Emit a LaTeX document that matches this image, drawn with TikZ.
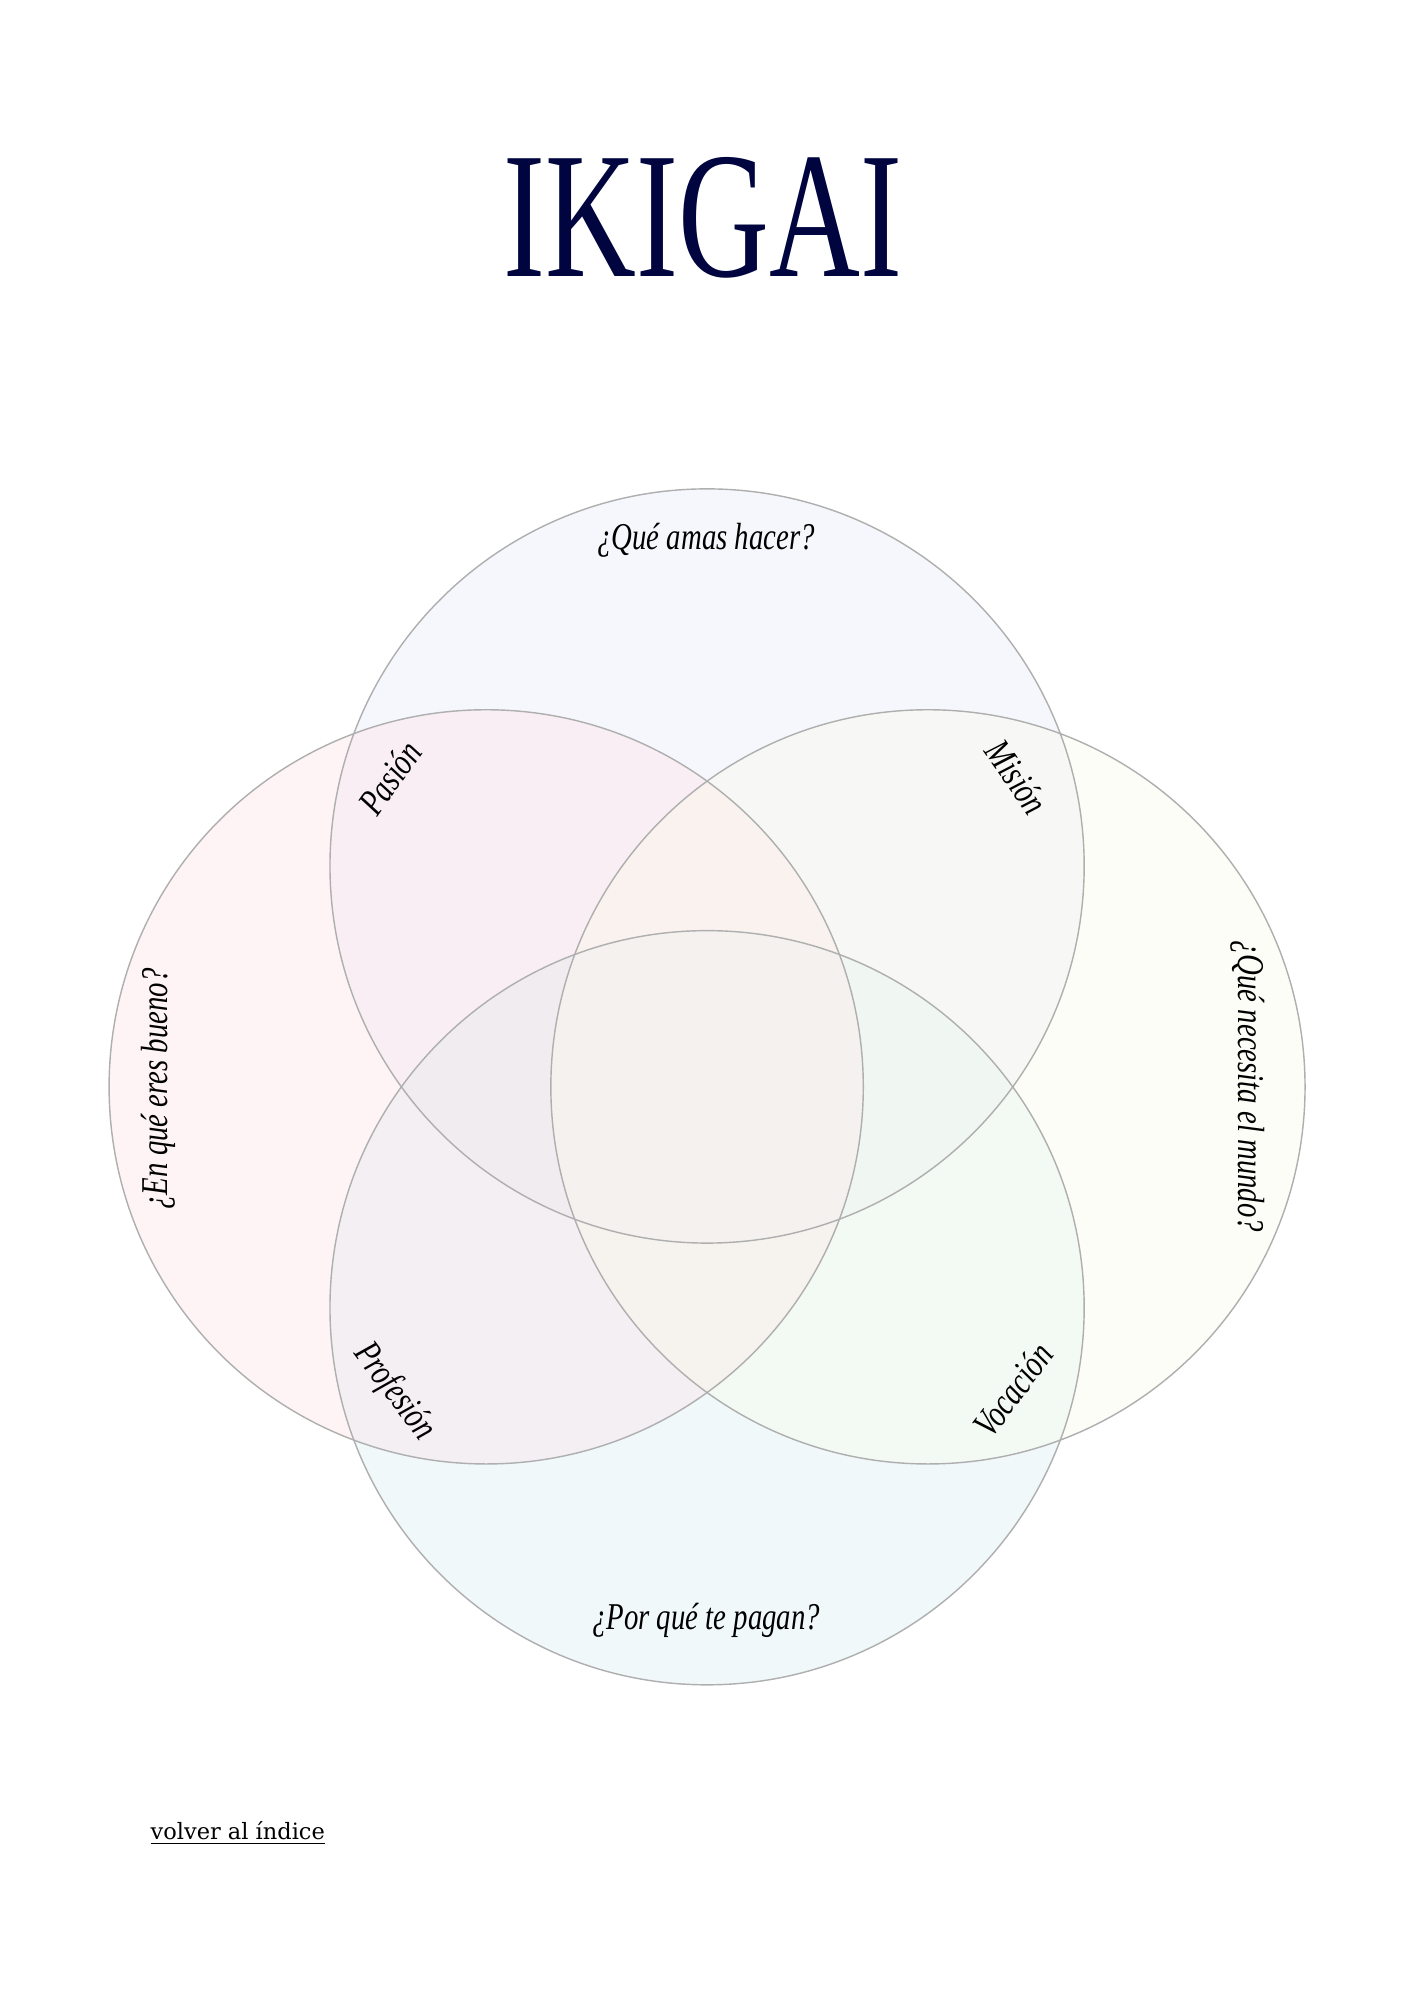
\documentclass[tikz,border=0pt]{standalone}
\usepackage{fontspec}
\usepackage{tikz}
\setmainfont{DejaVu Serif}
\newfontfamily\titlefont[FakeStretch=0.7]{Liberation Serif}
\newfontfamily\labelfont[FakeStretch=0.76]{Liberation Serif}
\definecolor{navy}{RGB}{0,5,64}
\definecolor{ringgray}{RGB}{175,175,175}
\definecolor{amaFill}{RGB}{232,235,247}
\definecolor{buenoFill}{RGB}{252,227,230}
\definecolor{mundoFill}{RGB}{250,250,235}
\definecolor{pagoFill}{RGB}{217,237,242}

\begin{document}
\begin{tikzpicture}[x=1mm, y=1mm,
    ring/.style={draw=ringgray, line width=0.6pt},
    quest/.style={font=\labelfont\itshape\fontsize{16}{18}\selectfont, inner sep=0pt},
    inter/.style={font=\labelfont\itshape\fontsize{16}{18}\selectfont, inner sep=0pt}]
  \useasboundingbox (0,0) rectangle (210,297);
  % fills
  \fill[amaFill, fill opacity=0.4] (105,168.4) circle [radius=56];
  \fill[pagoFill, fill opacity=0.4] (105,102.8) circle [radius=56];
  \fill[buenoFill, fill opacity=0.4] (72.2,135.6) circle [radius=56];
  \fill[mundoFill, fill opacity=0.4] (137.8,135.6) circle [radius=56];
  % outlines
  \draw[ring] (105,168.4) circle [radius=56];
  \draw[ring] (72.2,135.6) circle [radius=56];
  \draw[ring] (137.8,135.6) circle [radius=56];
  \draw[ring] (105,102.8) circle [radius=56];
  % title
  \node[anchor=base, text=navy, inner sep=0pt, font=\titlefont\fontsize{76}{80}\selectfont] (title) at (104.4,256) {IKIGAI};
  % questions
  \node[quest] (amas) at (104.85,216.7) {¿Qué amas hacer?};
  \node[quest, rotate=90] (bueno) at (23.5,135.3) {¿En qué eres bueno?};
  \node[quest, rotate=-90] (mundo) at (185.3,135.7) {¿Qué necesita el mundo?};
  \node[quest] (pagan) at (104.85,56.3) {¿Por qué te pagan?};
  % overlaps
  \node[inter, rotate=55] (pasion) at (57.9,181.5) {Pasión};
  \node[inter, rotate=-55] (mision) at (151,181.6) {Misión};
  \node[inter, rotate=-53] (profesion) at (58.5,90.3) {Profesión};
  \node[inter, rotate=53] (vocacion) at (150.4,90.6) {Vocación};
  % link
  \node[anchor=west, inner sep=0pt, font=\fontsize{9.5}{11}\selectfont] (volver) at (22.3,24.8) {\underline{volver al índice}};
\end{tikzpicture}
\end{document}
